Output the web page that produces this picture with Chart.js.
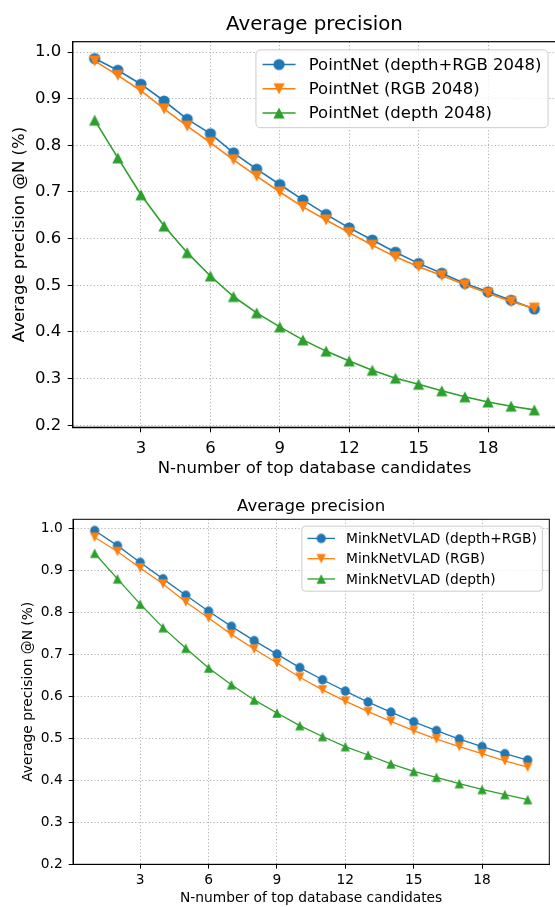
<!DOCTYPE html>
<html>
<head>
<meta charset="utf-8">
<title>Average precision</title>
<script src="https://cdn.jsdelivr.net/npm/chart.js@4.4.0/dist/chart.umd.min.js"></script>
<style>
  html, body { margin: 0; padding: 0; background: #fff; overflow: hidden; }
  #page { position: relative; width: 555px; height: 907px; overflow: hidden; }
  #top { position: absolute; left: 0; top: 0; }
  #bottom { position: absolute; left: 0; top: 485px; }
</style>
</head>
<body>
<div id="page">
  <canvas id="top" width="600" height="485"></canvas>
  <canvas id="bottom" width="555" height="422"></canvas>
</div>
<script>
const nValues = [1, 2, 3, 4, 5, 6, 7, 8, 9, 10, 11, 12, 13, 14, 15, 16, 17, 18, 19, 20];
const xTicks = [3, 6, 9, 12, 15, 18];
const yTicks = [0.2, 0.3, 0.4, 0.5, 0.6, 0.7, 0.8, 0.9, 1.0];

// upper plot: PointNet
const pointNetLabels = ['PointNet (depth+RGB 2048)', 'PointNet (RGB 2048)', 'PointNet (depth 2048)'];
const pointNetDepthRgb = [0.986, 0.961, 0.931, 0.895, 0.856, 0.825, 0.784, 0.749, 0.716, 0.683,
                          0.652, 0.623, 0.597, 0.571, 0.547, 0.526, 0.504, 0.486, 0.468, 0.449];
const pointNetRgb = [0.981, 0.950, 0.917, 0.878, 0.841, 0.806, 0.769, 0.734, 0.700, 0.668,
                     0.640, 0.613, 0.586, 0.561, 0.540, 0.521, 0.501, 0.483, 0.465, 0.451];
const pointNetDepth = [0.854, 0.773, 0.694, 0.627, 0.570, 0.520, 0.476, 0.441, 0.411, 0.383,
                       0.359, 0.338, 0.318, 0.301, 0.288, 0.274, 0.261, 0.250, 0.241, 0.233];

// lower plot: MinkNetVLAD
const minkLabels = ['MinkNetVLAD (depth+RGB)', 'MinkNetVLAD (RGB)', 'MinkNetVLAD (depth)'];
const minkDepthRgb = [0.994, 0.958, 0.918, 0.879, 0.840, 0.802, 0.766, 0.732, 0.700, 0.668,
                      0.639, 0.612, 0.586, 0.562, 0.539, 0.518, 0.498, 0.480, 0.463, 0.448];
const minkRgb = [0.978, 0.944, 0.905, 0.867, 0.824, 0.786, 0.747, 0.712, 0.679, 0.645,
                 0.615, 0.588, 0.563, 0.540, 0.518, 0.498, 0.480, 0.463, 0.446, 0.431];
const minkDepth = [0.940, 0.879, 0.819, 0.763, 0.714, 0.667, 0.627, 0.591, 0.560, 0.530,
                   0.504, 0.480, 0.460, 0.439, 0.421, 0.407, 0.392, 0.378, 0.366, 0.354];

const colors = ['#1f77b4', '#ff7f0e', '#2ca02c'];
const markers = ['circle', 'triDown', 'triUp'];
const FONT = 'DejaVu Sans';

Chart.defaults.font.family = FONT;
Chart.defaults.color = '#000';

// matplotlib-like markers (triangles as tall as they are wide)
function makeMarker(shape, color, size) {
  const dim = Math.ceil(size) + 4;
  const c = document.createElement('canvas');
  c.width = dim;
  c.height = dim;
  const ctx = c.getContext('2d');
  const m = dim / 2, h = size / 2;
  ctx.fillStyle = color;
  ctx.beginPath();
  if (shape === 'circle') {
    ctx.arc(m, m, h, 0, Math.PI * 2);
  } else if (shape === 'triUp') {
    ctx.moveTo(m, m - h); ctx.lineTo(m + h, m + h); ctx.lineTo(m - h, m + h);
  } else {
    ctx.moveTo(m, m + h); ctx.lineTo(m + h, m - h); ctx.lineTo(m - h, m - h);
  }
  ctx.closePath();
  ctx.fill();
  return c;
}

// all four spines on top of the lines
const frame = {
  id: 'frame',
  afterDatasetsDraw(chart, args, opts) {
    const { ctx, chartArea: a } = chart;
    ctx.save();
    ctx.strokeStyle = '#000';
    ctx.lineWidth = opts.width;
    ctx.strokeRect(a.left, a.top, a.right - a.left, a.bottom - a.top);
    ctx.restore();
  }
};

// legend box in the upper right corner
const boxLegend = {
  id: 'boxLegend',
  afterDraw(chart, args, opts) {
    const { ctx, chartArea: a } = chart;
    const f = opts.fontSize;
    const sets = chart.data.datasets;
    ctx.save();
    ctx.font = f + 'px "' + FONT + '"';
    const textW = Math.max(...sets.map(d => ctx.measureText(d.label).width));
    const rowH = f * 0.97;
    const w = 3.6 * f + textW;
    const h = 0.8 * f + 3 * rowH + f;
    const x = a.right - 0.5 * f - w;
    const y = a.top + 0.5 * f;
    ctx.beginPath();
    ctx.roundRect(x, y, w, h, 0.25 * f);
    ctx.fillStyle = 'rgba(255,255,255,0.8)';
    ctx.fill();
    ctx.strokeStyle = '#cccccc';
    ctx.lineWidth = 1;
    ctx.stroke();
    sets.forEach((d, i) => {
      const cy = y + 0.4 * f + rowH / 2 + i * (rowH + 0.5 * f);
      ctx.strokeStyle = d.borderColor;
      ctx.lineWidth = d.borderWidth;
      ctx.beginPath();
      ctx.moveTo(x + 0.4 * f, cy);
      ctx.lineTo(x + 2.4 * f, cy);
      ctx.stroke();
      const img = d.pointStyle;
      ctx.drawImage(img, x + 1.4 * f - img.width / 2, cy - img.height / 2);
      ctx.fillStyle = '#000';
      ctx.textBaseline = 'middle';
      ctx.fillText(d.label, x + 3.2 * f, cy + 1);
    });
    ctx.restore();
  }
};

function makeChart(id, labels, series, s) {
  const datasets = series.map((vals, i) => ({
    label: labels[i],
    data: nValues.map((n, k) => ({ x: n, y: vals[k] })),
    borderColor: colors[i],
    backgroundColor: colors[i],
    borderWidth: s.lineWidth,
    pointStyle: makeMarker(markers[i], colors[i], s.marker),
    pointRadius: 5,
    pointHoverRadius: 5,
    tension: 0,
    fill: false,
    order: 3 - i
  }));

  const grid = {
    color: '#b0b0b0',
    lineWidth: 1,
    tickLength: s.tickLen,
    tickColor: '#000',
    tickWidth: 1,
    tickBorderDash: []
  };

  return new Chart(document.getElementById(id), {
    type: 'line',
    data: { datasets },
    plugins: [frame, boxLegend],
    options: {
      responsive: false,
      animation: false,
      devicePixelRatio: 1,
      events: [],
      layout: { padding: { left: 0, top: 0, right: s.padRight, bottom: 0 }, autoPadding: false },
      plugins: {
        legend: { display: false },
        tooltip: { enabled: false },
        title: {
          display: true,
          fullSize: false,
          text: 'Average precision',
          color: '#000',
          font: { size: s.titleSize, weight: 'normal', lineHeight: 1.2 },
          padding: { top: s.titlePadTop, bottom: s.titlePadBottom }
        },
        frame: { width: s.spine },
        boxLegend: { fontSize: s.font }
      },
      scales: {
        x: {
          type: 'linear',
          bounds: 'data',
          min: 0.05,
          max: 20.95,
          afterBuildTicks: sc => { sc.ticks = xTicks.map(v => ({ value: v })); },
          afterFit: sc => { sc.height = s.xHeight; },
          grid: grid,
          border: { display: true, color: '#000', width: s.spine, dash: [1.2, 2.2] },
          ticks: {
            autoSkip: false, maxRotation: 0, padding: s.xTickPad, color: '#000',
            font: { size: s.font }, callback: v => String(v)
          },
          title: {
            display: true, text: 'N-number of top database candidates', color: '#000',
            font: { size: s.font, lineHeight: 1.2 }, padding: { top: 0, bottom: s.xTitlePad }
          }
        },
        y: {
          type: 'linear',
          bounds: 'data',
          min: s.yMin,
          max: s.yMax,
          afterBuildTicks: sc => { sc.ticks = yTicks.map(v => ({ value: v })); },
          afterFit: sc => { sc.width = s.yWidth; },
          grid: grid,
          border: { display: true, color: '#000', width: s.spine, dash: [1.2, 2.2] },
          ticks: {
            autoSkip: false, padding: s.yTickPad, color: '#000',
            font: { size: s.font }, callback: v => v.toFixed(1)
          },
          title: {
            display: true, text: 'Average precision @N (%)', color: '#000',
            font: { size: s.font, lineHeight: 1.2 }, padding: { top: s.yTitlePad, bottom: 0 }
          }
        }
      }
    }
  });
}

makeChart('top', pointNetLabels, [pointNetDepthRgb, pointNetRgb, pointNetDepth], {
  font: 16.5, titleSize: 19.8, titlePadTop: 13.2, titlePadBottom: 4.74,
  padRight: 43.7, yWidth: 72.7, xHeight: 57.7, xTitlePad: 6.8, yTitlePad: 10.1,
  tickLen: 5, yTickPad: 6.5, xTickPad: 6.2, yMin: 0.1957, yMax: 1.0221,
  lineWidth: 1.6, marker: 11.2, spine: 1.2
});

makeChart('bottom', minkLabels, [minkDepthRgb, minkRgb, minkDepth], {
  font: 13.8, titleSize: 16.6, titlePadTop: 11.74, titlePadBottom: 2.64,
  padRight: 5.7, yWidth: 73, xHeight: 42.7, xTitlePad: 0.4, yTitlePad: 19.7,
  tickLen: 4.3, yTickPad: 6, xTickPad: 3.6, yMin: 0.2, yMax: 1.0207,
  lineWidth: 1.3, marker: 9.3, spine: 1
});
</script>
</body>
</html>
